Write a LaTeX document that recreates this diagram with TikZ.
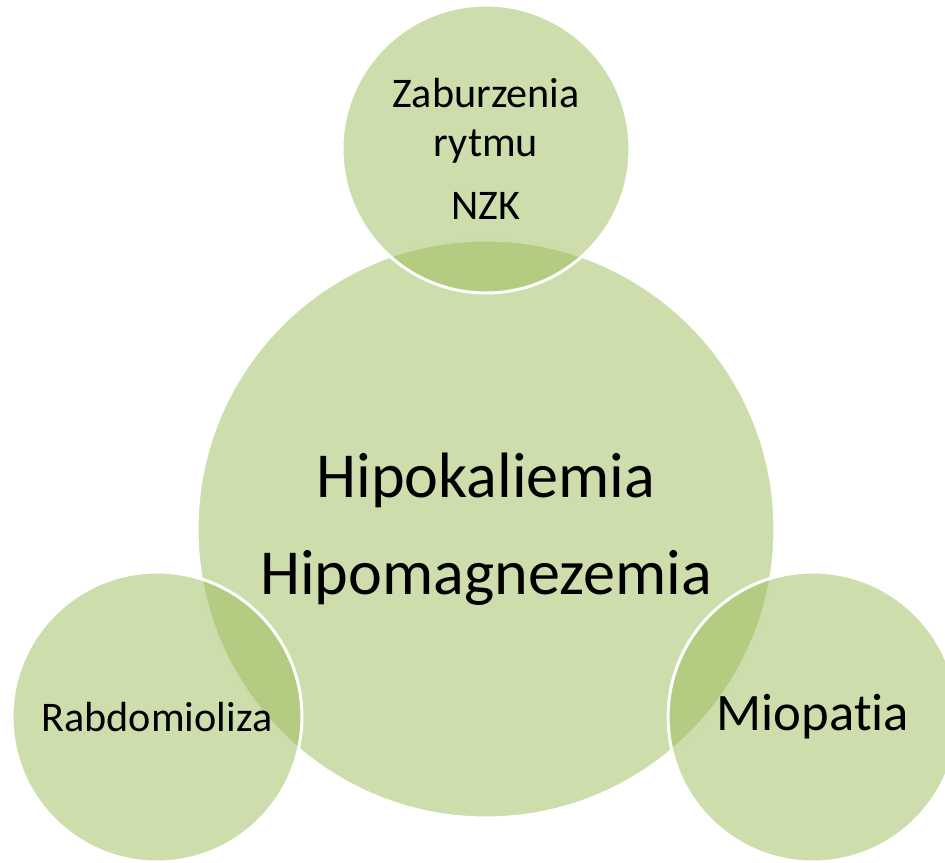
\documentclass[tikz,border=0pt]{standalone}
\usepackage{fontspec}
\setmainfont{Carlito}[Ligatures=NoCommon]
\usepackage{xcolor}

\definecolor{olivegreen}{HTML}{9BBB59}

\tikzset{
  bubble/.style={circle, inner sep=0pt, outer sep=0pt, align=center,
    fill=olivegreen, fill opacity=0.5, text opacity=1,
    draw=white, draw opacity=1, line width=1.7pt, text=black},
  bigbubble/.style={bubble, minimum size=11.56cm},
  smallbubble/.style={bubble, minimum size=5.8cm}
}

\begin{document}
\begin{tikzpicture}[x=0.02cm, y=-0.02cm]

% Frame
\useasboundingbox (0,0) rectangle (945,862);

% Centre circle
\node[bigbubble, font=\fontsize{36.5}{55}\selectfont] (hipo) at (486,529)
  {Hipokaliemia\\Hipomagnezemia};

% Top circle
\node[smallbubble, minimum size=5.76cm, font=\fontsize{24}{28}\selectfont] (rytm) at (486,149)
  {Zaburzenia\\rytmu\\[8pt]NZK};

% Left circle
\node[smallbubble, font=\fontsize{24}{28}\selectfont] (rabdo) at (157,717)
  {Rabdomioliza};

% Right circle
\node[smallbubble, font=\fontsize{30}{35}\selectfont] (mio) at (813,717)
  {Miopatia};

\end{tikzpicture}
\end{document}
